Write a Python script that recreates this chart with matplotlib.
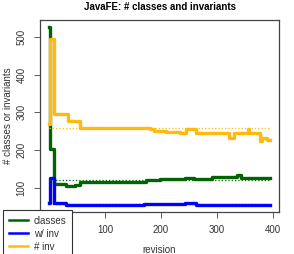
import numpy as np
import matplotlib.pyplot as plt

plt.rcParams['font.family'] = ['Liberation Sans', 'DejaVu Sans']

# step series (revision where value starts, value)
cls_rev = [0, 1, 2, 9, 31, 46, 55, 174, 198, 243, 260, 292, 336, 343, 395]
cls_val = [525, 270, 204, 110, 106, 109, 115, 122, 125, 126, 125, 130, 134, 127, 127]

inv_rev = [0, 1, 9, 31, 170, 243, 262, 395]
inv_val = [62, 128, 60, 55, 58, 60, 56, 56]

ninv_rev = [0, 1, 9, 34, 55, 100, 112, 174, 180, 188, 210, 234, 245, 262, 321, 331,
            355, 357, 374, 377, 380, 390, 395]
ninv_val = [270, 495, 295, 276, 258, 260, 259, 258, 255, 251, 249, 246, 257, 245, 233, 245,
            257, 245, 245, 225, 233, 227, 227]

cls_mean = 122
inv_mean = 57
ninv_mean = 260

fig = plt.figure(figsize=(2.94, 2.54), dpi=100)
ax = fig.add_axes([40/294, 1-212/254, 239/294, 192/254])

green = '#006400'
blue = '#0000FF'
gold = '#FFBA12'

ax.step(cls_rev, cls_val, where='post', color=green, lw=2.4, label='classes')
ax.step(inv_rev, inv_val, where='post', color=blue, lw=2.4, label='w/ inv')
ax.step(ninv_rev, ninv_val, where='post', color=gold, lw=2.4, label='# inv')
ax.plot([0, 395], [cls_mean, cls_mean], ':', color=green, lw=0.9)
ax.plot([0, 395], [inv_mean, inv_mean], ':', color=blue, lw=0.9)
ax.plot([0, 395], [ninv_mean, ninv_mean], ':', color=gold, lw=0.9)

ax.set_xlim(-16, 411)
ax.set_ylim(37, 544)
ax.set_xticks([100, 200, 300, 400])
ax.set_yticks([100, 200, 300, 400, 500])
ax.tick_params(labelsize=7, length=4.5, width=0.6, color='#444444', labelcolor='#333333', pad=5)
for lab in ax.get_yticklabels():
    lab.set_rotation(90)
    lab.set_va('center')
for s in ax.spines.values():
    s.set_color('#444444')
    s.set_linewidth(0.9)

ax.set_title('JavaFE: # classes and invariants', fontsize=7, fontweight='bold', pad=7)
ax.set_xlabel('revision', fontsize=7, labelpad=7, color='#333333')
ax.set_ylabel('# classes or invariants', fontsize=7, labelpad=3, color='#333333')

leg = fig.legend(loc='upper left', bbox_to_anchor=(3/294, 1-210/254), fontsize=7,
                 frameon=True, fancybox=False, edgecolor='#333333', framealpha=1,
                 handlelength=1.95, handletextpad=0.6, borderpad=0.6, labelspacing=0.3,
                 borderaxespad=0)
leg.get_frame().set_linewidth(0.8)
for line in leg.get_lines():
    line.set_linewidth(1.8)
for t in leg.get_texts():
    t.set_color('#333333')

fig.savefig('out.png', dpi=100)
